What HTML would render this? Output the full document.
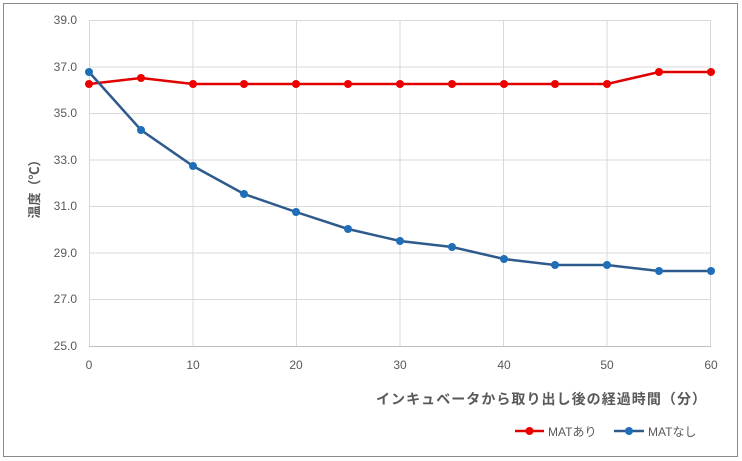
<!DOCTYPE html>
<html><head><meta charset="utf-8"><style>
html,body{margin:0;padding:0;background:#fff;}
svg{display:block;font-family:"Liberation Sans","Noto Sans CJK JP",sans-serif;}
</style></head><body>
<svg width="742" height="461" viewBox="0 0 742 461">
<rect x="3.5" y="3.5" width="734" height="453" fill="#fff" stroke="#8a8a8a" stroke-width="1"/>
<g stroke="#d9d9d9" stroke-width="1">
<line x1="89" y1="20.5" x2="711" y2="20.5"/>
<line x1="89" y1="67" x2="711" y2="67"/>
<line x1="89" y1="113.5" x2="711" y2="113.5"/>
<line x1="89" y1="160" x2="711" y2="160"/>
<line x1="89" y1="206.5" x2="711" y2="206.5"/>
<line x1="89" y1="253" x2="711" y2="253"/>
<line x1="89" y1="299.5" x2="711" y2="299.5"/>
<line x1="89.5" y1="20" x2="89.5" y2="346"/>
<line x1="193" y1="20" x2="193" y2="346"/>
<line x1="296.5" y1="20" x2="296.5" y2="346"/>
<line x1="400" y1="20" x2="400" y2="346"/>
<line x1="503.5" y1="20" x2="503.5" y2="346"/>
<line x1="607" y1="20" x2="607" y2="346"/>
<line x1="710.5" y1="20" x2="710.5" y2="346"/>
</g>
<line x1="89" y1="346.5" x2="711" y2="346.5" stroke="#bfbfbf"/>
<g font-size="12" fill="#595959" text-anchor="end">
<text x="77" y="24">39.0</text><text x="77" y="71">37.0</text><text x="77" y="117">35.0</text>
<text x="77" y="164">33.0</text><text x="77" y="210">31.0</text><text x="77" y="257">29.0</text>
<text x="77" y="303">27.0</text><text x="77" y="350">25.0</text>
</g>
<g font-size="12" fill="#595959" text-anchor="middle">
<text x="89" y="369">0</text><text x="193" y="369">10</text><text x="296" y="369">20</text>
<text x="400" y="369">30</text><text x="504" y="369">40</text><text x="607" y="369">50</text><text x="711" y="369">60</text>
</g>
<text transform="translate(39,186) rotate(-90)" font-size="13" font-weight="bold" fill="#595959" text-anchor="middle">温度（℃）</text>
<text x="376" y="404" font-size="14" font-weight="bold" fill="#595959" textLength="330" lengthAdjust="spacing">インキュベータから取り出し後の経過時間（分）</text>
<polyline fill="none" stroke="#e00000" stroke-width="2.5" points="89,84 141,78 193,84 244,84 296,84 348,84 400,84 452,84 504,84 555,84 607,84 659,72 711,72"/>
<g fill="#ee0000">
<circle cx="89" cy="84" r="4"/><circle cx="141" cy="78" r="4"/><circle cx="193" cy="84" r="4"/><circle cx="244" cy="84" r="4"/><circle cx="296" cy="84" r="4"/><circle cx="348" cy="84" r="4"/><circle cx="400" cy="84" r="4"/><circle cx="452" cy="84" r="4"/><circle cx="504" cy="84" r="4"/><circle cx="555" cy="84" r="4"/><circle cx="607" cy="84" r="4"/><circle cx="659" cy="72" r="4"/><circle cx="711" cy="72" r="4"/>
</g>
<polyline fill="none" stroke="#2f5a8c" stroke-width="2.5" points="89,72 141,130 193,166 244,194 296,212 348,229 400,241 452,247 504,259 555,265 607,265 659,271 711,271"/>
<g fill="#1f6fb8">
<circle cx="89" cy="72" r="4"/><circle cx="141" cy="130" r="4"/><circle cx="193" cy="166" r="4"/><circle cx="244" cy="194" r="4"/><circle cx="296" cy="212" r="4"/><circle cx="348" cy="229" r="4"/><circle cx="400" cy="241" r="4"/><circle cx="452" cy="247" r="4"/><circle cx="504" cy="259" r="4"/><circle cx="555" cy="265" r="4"/><circle cx="607" cy="265" r="4"/><circle cx="659" cy="271" r="4"/><circle cx="711" cy="271" r="4"/>
</g>
<line x1="515" y1="431" x2="544" y2="431" stroke="#e00000" stroke-width="2.5"/>
<circle cx="529.5" cy="431" r="4" fill="#ee0000"/>
<text x="548" y="436" font-size="12" fill="#595959">MATあり</text>
<line x1="614" y1="431" x2="644" y2="431" stroke="#2f5a8c" stroke-width="2.5"/>
<circle cx="629" cy="431" r="4" fill="#1f6fb8"/>
<text x="648" y="436" font-size="12" fill="#595959">MATなし</text>
</svg>
</body></html>
